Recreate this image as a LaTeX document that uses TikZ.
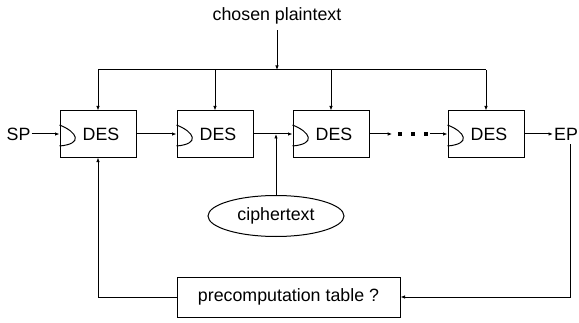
\documentclass[tikz,border=0pt]{standalone}
\usepackage{fontspec}
\setmainfont{Liberation Sans}
\usetikzlibrary{positioning,calc,arrows.meta,shapes.geometric}

\begin{document}
\begin{tikzpicture}[x=1pt, y=1pt, >={Latex[length=4.5pt,width=3.5pt]},
every node/.style={font=\fontsize{17.8}{20}\selectfont},
line/.style={line width=1pt},
desbox/.style={rectangle, draw, line width=1pt, minimum width=76pt, minimum height=46pt, inner sep=0pt},
word/.style={inner sep=1pt},
dot/.style={rectangle, fill, inner sep=0pt, minimum size=3.2pt}]

\useasboundingbox (0,0) rectangle (579,322);

\node[word] (pt) at (277,306) {chosen plaintext};
\coordinate (bus) at (277,252);

\node[desbox] (des1) at (98,188)    {\hspace*{6pt}DES};
\node[desbox] (des2) at (215,188)   {\hspace*{6pt}DES};
\node[desbox] (des3) at (331,188)   {\hspace*{6pt}DES};
\node[desbox] (des4) at (486,188)   {\hspace*{6pt}DES};

\node[word] (sp) at (18.5,188) {SP};
\node[word, anchor=west] (ep) at (553,188) {EP};

\node[dot] (d1) at (400,188) {};
\node[dot] (d2) at (413,188) {};
\node[dot] (d3) at (426,188) {};

\node[ellipse, draw, line, minimum width=136pt, minimum height=41pt, inner sep=0pt] (ct) at (276,106) {ciphertext};
\node[draw, line, minimum width=223pt, minimum height=40pt] (tab) at (288.5,25) {precomputation table ?};

% clock marks
\foreach \b in {des1,des2,des3,des4}
  \draw[line] ($(\b.west)+(0,9)$) .. controls ($(\b.west)+(18,2)$) and ($(\b.west)+(24,-10)$) .. ($(\b.west)+(0,-12)$);

% plaintext bus
\draw[line, ->, shorten <=5pt] (pt) -- (bus);
\draw[line] (des1.north |- bus) -- (des4.north |- bus);
\foreach \b in {des1,des2,des3,des4}
  \draw[line, ->] (\b.north |- bus) -- (\b.north);

% chain
\draw[line, ->] (sp) -- (des1);
\draw[line, ->] (des1) -- (des2);
\draw[line, ->] (des2) -- (des3);
\draw[line, ->, shorten >=6pt] (des3) -- (d1);
\draw[line, ->, shorten <=2pt] (d3) -- (des4);
\draw[line, ->] (des4) -- (ep);

\draw[line, ->] (ct.north) -- (ct.north |- des2.east);

% precomputation loop
\draw[line, ->] ([xshift=4pt,yshift=-3pt]ep.south) |- (tab.east);
\draw[line, ->] (tab.west) -| (des1.south);

\end{tikzpicture}
\end{document}
